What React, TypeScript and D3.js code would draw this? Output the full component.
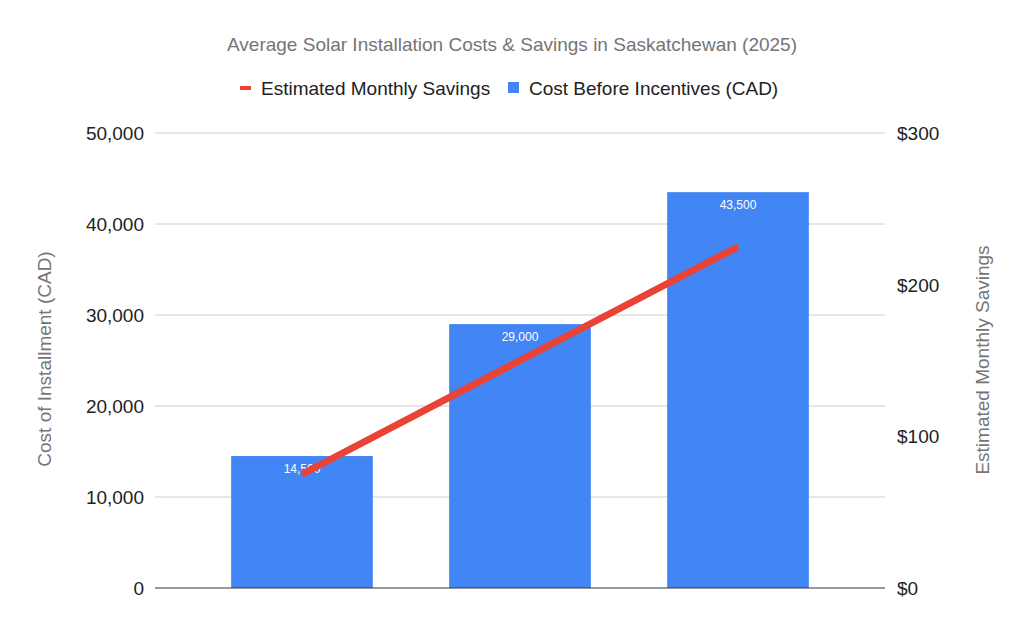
import { useEffect, useRef } from "react";
import * as d3 from "d3";

const categories = ["Small", "Medium", "Large"];
const costValues = [14500, 29000, 43500];
const savingsValues = [75, 150, 225];
const leftTicks = [0, 10000, 20000, 30000, 40000, 50000];
const rightTicks = [0, 100, 200, 300];

const W = 1024;
const H = 632;

export default function App() {
  const svgRef = useRef<SVGSVGElement | null>(null);

  useEffect(() => {
    if (!svgRef.current) return;
    const svg = d3.select(svgRef.current);
    svg.selectAll("*").remove();

    const font = "'Liberation Sans', Arial, sans-serif";
    const fs = 19;
    const gridLeft = 155;
    const gridRight = 885;
    const top = 133;
    const bottom = 588;

    const x = d3
      .scaleBand<string>()
      .domain(categories)
      .range([193, 847])
      .paddingInner(0.35)
      .paddingOuter(0.175);

    const yLeft = d3.scaleLinear().domain([0, 50000]).range([bottom, top]);
    const yRight = d3.scaleLinear().domain([0, 300]).range([bottom, top]);

    // Title
    svg
      .append("text")
      .attr("x", 512)
      .attr("y", 51)
      .attr("text-anchor", "middle")
      .attr("font-family", font)
      .attr("font-size", fs)
      .attr("fill", "#757575")
      .text("Average Solar Installation Costs & Savings in Saskatchewan (2025)");

    // Legend
    const legend = svg.append("g").attr("font-family", font).attr("font-size", fs).attr("fill", "#222");
    legend.append("rect").attr("x", 240).attr("y", 86).attr("width", 11).attr("height", 4).attr("fill", "#ea4335");
    legend.append("text").attr("x", 261).attr("y", 95).text("Estimated Monthly Savings");
    legend.append("rect").attr("x", 508).attr("y", 82).attr("width", 11).attr("height", 11).attr("fill", "#4285f4");
    legend.append("text").attr("x", 529).attr("y", 95).text("Cost Before Incentives (CAD)");

    // Grid
    svg
      .append("g")
      .selectAll("line")
      .data(leftTicks.filter((t) => t > 0))
      .join("line")
      .attr("x1", gridLeft)
      .attr("x2", gridRight)
      .attr("y1", (d) => yLeft(d))
      .attr("y2", (d) => yLeft(d))
      .attr("stroke", "#cccccc")
      .attr("stroke-width", 1);

    // Bars
    svg
      .append("g")
      .selectAll("rect")
      .data(categories)
      .join("rect")
      .attr("x", (d) => x(d)!)
      .attr("width", x.bandwidth())
      .attr("y", (_, i) => yLeft(costValues[i]))
      .attr("height", (_, i) => bottom - yLeft(costValues[i]))
      .attr("fill", "#4285f4");

    // Baseline
    svg
      .append("line")
      .attr("x1", gridLeft)
      .attr("x2", gridRight)
      .attr("y1", bottom)
      .attr("y2", bottom)
      .attr("stroke", "#333333")
      .attr("stroke-width", 1);

    // Bar labels
    svg
      .append("g")
      .selectAll("text")
      .data(categories)
      .join("text")
      .attr("x", (d) => x(d)! + x.bandwidth() / 2)
      .attr("y", (_, i) => yLeft(costValues[i]) + 17)
      .attr("text-anchor", "middle")
      .attr("font-family", font)
      .attr("font-size", 12)
      .attr("fill", "#ffffff")
      .text((_, i) => d3.format(",")(costValues[i]));

    // Savings line
    const line = d3
      .line<number>()
      .x((_, i) => x(categories[i])! + x.bandwidth() / 2)
      .y((d) => yRight(d));
    svg
      .append("path")
      .datum(savingsValues)
      .attr("d", line)
      .attr("fill", "none")
      .attr("stroke", "#ea4335")
      .attr("stroke-width", 7);

    // Axis labels
    svg
      .append("g")
      .selectAll("text")
      .data(leftTicks)
      .join("text")
      .attr("x", 144)
      .attr("y", (d) => yLeft(d) + 7)
      .attr("text-anchor", "end")
      .attr("font-family", font)
      .attr("font-size", fs)
      .attr("fill", "#222")
      .text((d) => d3.format(",")(d));

    svg
      .append("g")
      .selectAll("text")
      .data(rightTicks)
      .join("text")
      .attr("x", 897)
      .attr("y", (d) => yRight(d) + 7)
      .attr("font-family", font)
      .attr("font-size", fs)
      .attr("fill", "#222")
      .text((d) => "$" + d);

    // Axis titles
    svg
      .append("text")
      .attr("transform", "translate(51,359) rotate(-90)")
      .attr("text-anchor", "middle")
      .attr("font-family", font)
      .attr("font-size", fs)
      .attr("fill", "#757575")
      .text("Cost of Installment (CAD)");

    svg
      .append("text")
      .attr("transform", "translate(989,360) rotate(-90)")
      .attr("text-anchor", "middle")
      .attr("font-family", font)
      .attr("font-size", fs)
      .attr("fill", "#757575")
      .text("Estimated Monthly Savings");
  }, []);

  return (
    <div style={{ position: "absolute", left: 0, top: 0, width: W, height: H, background: "#fff" }}>
      <svg ref={svgRef} width={W} height={H} viewBox={`0 0 ${W} ${H}`}></svg>
    </div>
  );
}
